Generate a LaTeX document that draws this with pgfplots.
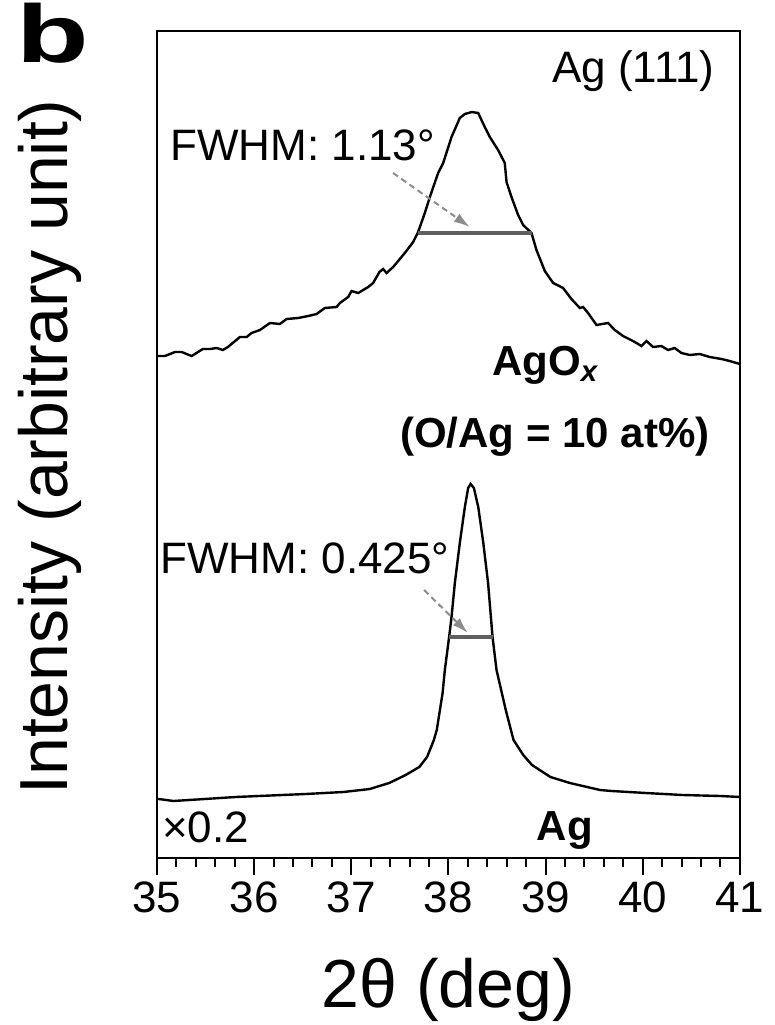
\documentclass[border=0pt]{standalone}
\usepackage{pgfplots}
\pgfplotsset{compat=1.18}
\usepackage{fontspec}
\setmainfont{Liberation Sans}
\usetikzlibrary{arrows.meta}
\definecolor{fwhmgray}{RGB}{95,95,95}
\definecolor{arrowgray}{RGB}{140,140,140}

\begin{document}
\begin{tikzpicture}
\begin{axis}[
    scale only axis,
    width=291.5pt, height=413.5pt,
    xmin=35, xmax=41, ymin=-3, ymax=824,
    axis line style={line width=1.2pt},
    xtick={35,36,37,38,39,40,41},
    minor x tick num=4,
    xtick pos=left,
    ytick=\empty,
    tick align=outside,
    major tick length=8.5pt,
    minor tick length=4.5pt,
    every tick/.style={line width=1pt, black},
    tick label style={font=\fontsize{22}{26}\selectfont},
    /pgf/number format/assume math mode=true,
    xlabel={2θ (deg)},
    ylabel={Intensity (arbitrary unit)},
    label style={font=\fontsize{34}{40}\selectfont},
    xlabel style={at={(axis description cs:0.5,-0.181)}, anchor=base},
    ylabel style={at={(axis description cs:-0.1527,0.497)}, anchor=base},
    clip=false,
]
% AgOx (upper trace)
\addplot[black, line width=1.2pt] coordinates {
(35.000,499) (35.013,499) (35.082,499) (35.185,503) (35.254,503)
(35.357,499) (35.473,506) (35.545,506) (35.614,507) (35.679,505)
(35.730,508) (35.854,518) (35.923,518) (35.974,522) (36.060,525)
(36.163,532) (36.265,531) (36.334,536) (36.454,537) (36.557,539)
(36.643,541) (36.728,547) (36.849,548) (36.883,552) (36.968,558)
(37.003,564) (37.071,562) (37.174,568) (37.225,572) (37.290,583)
(37.328,586) (37.363,582) (37.431,588) (37.551,602) (37.637,613)
(37.688,623) (37.757,642) (37.809,658) (37.894,682) (37.946,692)
(38.032,718) (38.117,737) (38.169,741) (38.240,743) (38.306,742)
(38.374,728) (38.426,718) (38.511,705) (38.580,692) (38.598,673)
(38.649,658) (38.717,640) (38.769,630) (38.855,622) (38.906,605)
(38.992,584) (39.077,572) (39.180,567) (39.266,556) (39.352,547)
(39.386,548) (39.437,542) (39.524,530) (39.643,532) (39.712,525)
(39.797,519) (39.900,514) (39.987,509) (40.038,514) (40.106,508)
(40.192,509) (40.260,505) (40.329,507) (40.398,502) (40.484,500)
(40.586,501) (40.689,498) (40.810,496) (40.895,494) (40.964,492)
(41.000,491)
};
% Ag (lower trace, x0.2)
\addplot[black, line width=1.2pt] coordinates {
(35.00,56) (35.02,56) (35.17,54) (35.81,58) (36.53,61) (36.92,63)
(37.19,66) (37.39,72) (37.56,80) (37.70,88) (37.78,98) (37.85,115)
(37.88,125) (37.94,162) (37.963,185) (38.007,218) (38.032,238)
(38.066,272) (38.117,312) (38.169,348) (38.203,367) (38.228,371)
(38.262,367) (38.307,348) (38.359,312) (38.408,272) (38.454,218)
(38.495,185) (38.59,145) (38.67,115) (38.77,100) (38.86,90)
(39.05,78) (39.25,72) (39.56,65) (39.68,64) (40.03,62) (40.41,60)
(40.80,59) (41.00,58)
};
% FWHM bars
\addplot[fwhmgray, line width=2pt] coordinates {(37.688,622) (38.855,622)};
\addplot[fwhmgray, line width=2pt] coordinates {(38.007,218) (38.454,218)};
% arrows
\draw[arrowgray, line width=1pt, dash pattern=on 3pt off 2pt, -{Latex[length=8pt,width=5pt]}]
    (axis cs:37.43,682) -- (axis cs:38.22,628);
\draw[arrowgray, line width=1pt, dash pattern=on 3pt off 2pt, -{Latex[length=8pt,width=5pt]}]
    (axis cs:37.75,265) -- (axis cs:38.20,222);
% texts
\node[anchor=base east, inner sep=0, font=\fontsize{22}{26}\selectfont] at (axis cs:40.741,773) {Ag (111)};
\node[anchor=base west, inner sep=0, font=\fontsize{22}{26}\selectfont] at (axis cs:35.134,695) {FWHM: 1.13°};
\node[anchor=base west, inner sep=0, font=\fontsize{22}{26}\selectfont] at (axis cs:35.031,282) {FWHM: 0.425°};
\node[anchor=base, inner sep=0, font=\fontsize{21}{25}\selectfont\bfseries] at (axis cs:39.0,480) {AgO\textsubscript{\textit{x}}};
\node[anchor=base, inner sep=0, font=\fontsize{21}{25}\selectfont\bfseries] at (axis cs:39.095,408) {(O/Ag = 10 at\%)};
\node[anchor=base west, inner sep=0, font=\fontsize{22}{26}\selectfont] at (axis cs:35.051,13) {×0.2};
\node[anchor=base, inner sep=0, font=\fontsize{21}{25}\selectfont\bfseries] at (axis cs:39.197,15) {Ag};
\node[anchor=base west, inner sep=0, font=\fontsize{41}{48}\selectfont\bfseries] at (axis cs:33.55,793) {\scalebox{1.45}[1.0]{b}};
% picture frame
\coordinate (bbll) at (axis cs:33.3848,-170);
\coordinate (bbur) at (axis cs:41.3580,855);
\end{axis}
\pgfresetboundingbox
\useasboundingbox (bbll) rectangle (bbur);
\end{tikzpicture}
\end{document}
